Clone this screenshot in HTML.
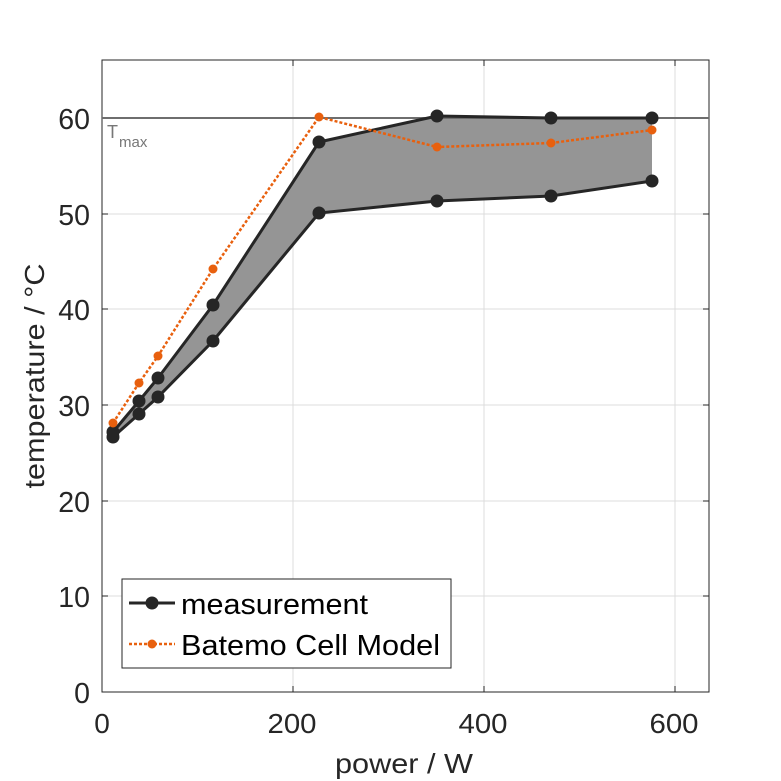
<!DOCTYPE html>
<html><head><style>body{margin:0;background:#fff}svg{display:block}</style></head><body>
<svg width="781" height="781" xmlns="http://www.w3.org/2000/svg" font-family="Liberation Sans, sans-serif">
<rect width="781" height="781" fill="#fff"/>
<g stroke="#dcdcdc" stroke-width="1">
<line x1="293" y1="60" x2="293" y2="692"/><line x1="484" y1="60" x2="484" y2="692"/><line x1="675" y1="60" x2="675" y2="692"/>
<line x1="102" y1="596" x2="709" y2="596"/><line x1="102" y1="501" x2="709" y2="501"/><line x1="102" y1="405" x2="709" y2="405"/><line x1="102" y1="309" x2="709" y2="309"/><line x1="102" y1="214" x2="709" y2="214"/><line x1="102" y1="118" x2="709" y2="118"/>
</g>
<rect x="102" y="60" width="607" height="632" fill="none" stroke="#262626" stroke-width="1"/>
<g stroke="#262626">
<line x1="293" y1="692" x2="293" y2="686"/><line x1="484" y1="692" x2="484" y2="686"/><line x1="675" y1="692" x2="675" y2="686"/>
<line x1="293" y1="60" x2="293" y2="66"/><line x1="484" y1="60" x2="484" y2="66"/><line x1="675" y1="60" x2="675" y2="66"/>
<line x1="102" y1="596" x2="108" y2="596"/><line x1="102" y1="501" x2="108" y2="501"/><line x1="102" y1="405" x2="108" y2="405"/><line x1="102" y1="309" x2="108" y2="309"/><line x1="102" y1="214" x2="108" y2="214"/><line x1="102" y1="118" x2="108" y2="118"/>
<line x1="709" y1="596" x2="703" y2="596"/><line x1="709" y1="501" x2="703" y2="501"/><line x1="709" y1="405" x2="703" y2="405"/><line x1="709" y1="309" x2="703" y2="309"/><line x1="709" y1="214" x2="703" y2="214"/>
</g>
<polygon points="113,432 139,401 158,378 213,305 319,142 437,116 551,118 652,118 652,181 551,196 437,201 319,213 213,341 158,397 139,414 113,437" fill="#959595"/>
<line x1="102" y1="118" x2="709" y2="118" stroke="#6e6e6e" stroke-width="2"/>
<text x="107" y="138" font-size="18" fill="#777">T<tspan x="119" y="147" font-size="15">max</tspan></text>
<g fill="none" stroke="#262626" stroke-width="3">
<polyline points="113,432 139,401 158,378 213,305 319,142 437,116 551,118 652,118"/>
<polyline points="113,437 139,414 158,397 213,341 319,213 437,201 551,196 652,181"/>
</g>
<g fill="#262626">
<circle cx="113" cy="432" r="6.5"/><circle cx="139" cy="401" r="6.5"/><circle cx="158" cy="378" r="6.5"/><circle cx="213" cy="305" r="6.5"/><circle cx="319" cy="142" r="6.5"/><circle cx="437" cy="116" r="6.5"/><circle cx="551" cy="118" r="6.5"/><circle cx="652" cy="118" r="6.5"/>
<circle cx="113" cy="437" r="6.5"/><circle cx="139" cy="414" r="6.5"/><circle cx="158" cy="397" r="6.5"/><circle cx="213" cy="341" r="6.5"/><circle cx="319" cy="213" r="6.5"/><circle cx="437" cy="201" r="6.5"/><circle cx="551" cy="196" r="6.5"/><circle cx="652" cy="181" r="6.5"/>
</g>
<polyline points="113,423 139,383 158,356 213,269 319,117 437,147 551,143 652,130" fill="none" stroke="#e8600e" stroke-width="2.5" stroke-dasharray="3,2"/>
<g fill="#e8600e">
<circle cx="113" cy="423" r="4.5"/><circle cx="139" cy="383" r="4.5"/><circle cx="158" cy="356" r="4.5"/><circle cx="213" cy="269" r="4.5"/><circle cx="319" cy="117" r="4.5"/><circle cx="437" cy="147" r="4.5"/><circle cx="551" cy="143" r="4.5"/><circle cx="652" cy="130" r="4.5"/>
</g>
<rect x="122" y="579" width="329" height="89" fill="#fff" stroke="#262626" stroke-width="1"/>
<line x1="129" y1="603" x2="175" y2="603" stroke="#262626" stroke-width="3"/><circle cx="152" cy="603" r="6.5" fill="#262626"/>
<text x="181" y="614" font-size="29" textLength="187" lengthAdjust="spacingAndGlyphs" fill="#000">measurement</text>
<line x1="129" y1="644" x2="175" y2="644" stroke="#e8600e" stroke-width="2.5" stroke-dasharray="3,2"/><circle cx="152" cy="644" r="4.5" fill="#e8600e"/>
<text x="181" y="655" font-size="29" textLength="259" lengthAdjust="spacingAndGlyphs" fill="#000">Batemo Cell Model</text>
<g font-size="28" fill="#262626" text-anchor="middle">
<text x="102" y="733">0</text><text x="292" y="733" textLength="49" lengthAdjust="spacingAndGlyphs">200</text><text x="483" y="733" textLength="49" lengthAdjust="spacingAndGlyphs">400</text><text x="674" y="733" textLength="49" lengthAdjust="spacingAndGlyphs">600</text>
<text x="404" y="773" textLength="138" lengthAdjust="spacingAndGlyphs">power / W</text>
</g>
<g font-size="28.5" fill="#262626" text-anchor="end">
<text x="90" y="703">0</text><text x="90" y="607">10</text><text x="90" y="512">20</text><text x="90" y="416">30</text><text x="90" y="320">40</text><text x="90" y="225">50</text><text x="90" y="129">60</text>
</g>
<text transform="translate(44,376) rotate(-90)" font-size="28" textLength="225" lengthAdjust="spacingAndGlyphs" fill="#262626" text-anchor="middle">temperature / °C</text>
</svg>
</body></html>
